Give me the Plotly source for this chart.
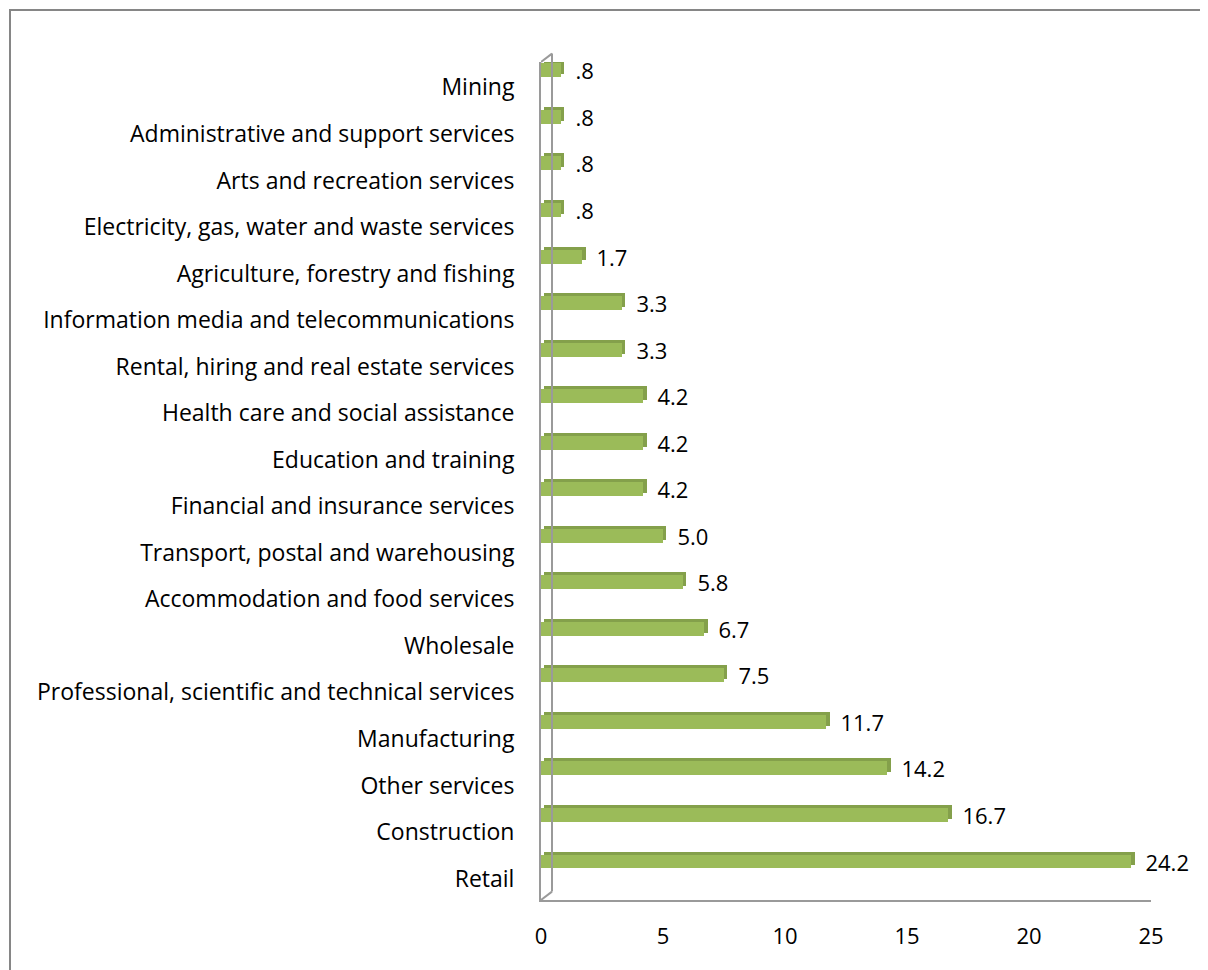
import plotly.graph_objects as go

categories = [
    "Retail", "Construction", "Other services", "Manufacturing",
    "Professional, scientific and technical services", "Wholesale",
    "Accommodation and food services", "Transport, postal and warehousing",
    "Financial and insurance services", "Education and training",
    "Health care and social assistance", "Rental, hiring and real estate services",
    "Information media and telecommunications", "Agriculture, forestry and fishing",
    "Electricity, gas, water and waste services", "Arts and recreation services",
    "Administrative and support services", "Mining",
]
values = [24.2, 16.7, 14.2, 11.7, 7.5, 6.7, 5.8, 5.0, 4.2, 4.2, 4.2, 3.3, 3.3, 1.7, 0.8, 0.8, 0.8, 0.8]
x_ticks = [0, 5, 10, 15, 20, 25]

NBSP = "\u00a0"
labels = [NBSP * 2 + (f"{v:.1f}".lstrip("0") if v < 1 else f"{v:.1f}") for v in values]

FONT = "Open Sans"
FSIZE = 22
FRONT = "#9BBB59"
DARK = "#84A04B"
GRID = "#9a9a9a"

fig = go.Figure()
# 3D depth (top/side faces)
fig.add_trace(go.Bar(
    y=categories, x=values, base=0.13, orientation="h",
    width=0.3, offset=-0.15 + 0.065,
    marker=dict(color=DARK, line=dict(width=0)),
    hoverinfo="skip", showlegend=False,
))
# front faces
fig.add_trace(go.Bar(
    y=categories, x=values, orientation="h",
    width=0.3, offset=-0.15,
    marker=dict(color=FRONT, line=dict(width=0)),
    text=labels, textposition="outside", cliponaxis=False,
    constraintext="none",
    textfont=dict(family=FONT, size=FSIZE, color="black"),
    showlegend=False,
))

shapes = [
    # back wall line
    dict(type="line", xref="x", yref="paper", xsizemode="pixel", xanchor=0,
         x0=11, x1=11, y0=0.01, y1=1.01, line=dict(color=GRID, width=2)),
    # bottom diagonal
    dict(type="line", xref="x", yref="paper", xsizemode="pixel", xanchor=0,
         x0=0, x1=11, y0=0, y1=0.01, line=dict(color=GRID, width=2)),
    # top diagonal
    dict(type="line", xref="x", yref="paper", xsizemode="pixel", xanchor=0,
         x0=0, x1=11, y0=1.0, y1=1.01, line=dict(color=GRID, width=2)),
    # outer frame
    dict(type="rect", xref="paper", yref="paper",
         x0=(2 - 533) / 610, x1=1.2, y0=-0.2, y1=1 + (54 - 2) / 838,
         line=dict(color="#868686", width=2), layer="below"),
]

fig.update_layout(
    width=1200, height=962,
    margin=dict(l=533, r=57, t=54, b=70),
    paper_bgcolor="white", plot_bgcolor="white",
    barmode="overlay", bargap=0,
    font=dict(family=FONT, size=FSIZE, color="black"),
    shapes=shapes,
    xaxis=dict(range=[0, 25], tickvals=x_ticks, showgrid=False, zeroline=False,
               showline=True, linecolor=GRID, linewidth=2, ticks="",
               ticklabelstandoff=16, tickfont=dict(size=FSIZE)),
    yaxis=dict(type="category", range=[-0.827, 17.18], showgrid=False,
               zeroline=False, showline=True, linecolor=GRID, linewidth=2,
               ticks="", ticklabelshift=17, ticklabelstandoff=20,
               tickfont=dict(size=23)),
)

fig.write_html("out.html")
